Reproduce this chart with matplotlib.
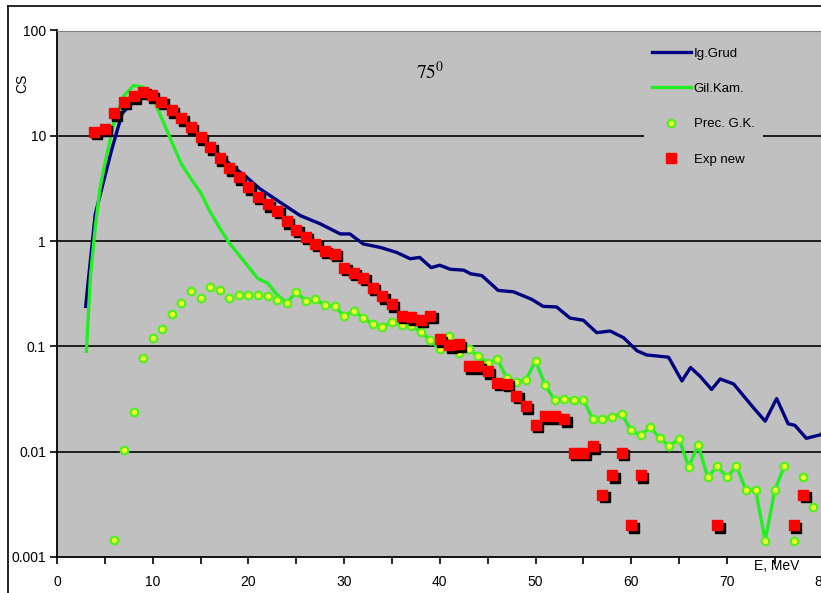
import matplotlib
matplotlib.use("Agg")
import matplotlib.pyplot as plt
from matplotlib.lines import Line2D
from matplotlib.ticker import FixedLocator, MultipleLocator, FuncFormatter, NullLocator
from matplotlib.transforms import offset_copy

# Ig.Grud (navy line)
grud_e = [3.0, 3.3, 4.0, 4.8, 5.7, 6.8, 7.8, 8.85, 10.2, 11.6, 13.0, 14.4, 15.8, 17.2,
          18.6, 19.6, 21.2, 23.3, 25.4, 27.5, 29.6, 30.6, 32.0, 33.8, 35.5, 36.9, 37.9,
          39.1, 40.0, 41.1, 42.5, 43.2, 44.4, 46.1, 47.7, 49.6, 50.8, 52.2, 53.6, 55.0,
          56.4, 57.8, 59.2, 60.6, 61.6, 63.9, 65.3, 66.2, 67.2, 68.4, 69.3, 70.7, 72.8,
          74.0, 75.2, 76.4, 77.1, 78.3, 79.7, 80.0]
grud_cs = [0.24, 0.45, 1.8, 3.5, 7.3, 16.3, 20.3, 25.2, 24.3, 18.8, 15.1, 11.3, 8.4, 6.3,
           4.9, 4.2, 3.14, 2.34, 1.75, 1.46, 1.17, 1.17, 0.94, 0.87, 0.78, 0.68, 0.70,
           0.56, 0.59, 0.54, 0.53, 0.49, 0.47, 0.34, 0.33, 0.28, 0.24, 0.237, 0.186, 0.177,
           0.135, 0.14, 0.121, 0.091, 0.083, 0.079, 0.047, 0.063, 0.052, 0.039, 0.049, 0.044, 0.026,
           0.0195, 0.032, 0.0184, 0.0178, 0.0134, 0.0144, 0.015]

# Prec. G.K. (points)
prec_e = list(range(6, 80))
prec_cs = [0.00145, 0.0103, 0.024, 0.077, 0.12, 0.147, 0.204, 0.26, 0.338, 0.29,
           0.37, 0.34, 0.29, 0.31, 0.31, 0.305, 0.30, 0.275, 0.258, 0.328,
           0.27, 0.28, 0.247, 0.24, 0.195, 0.218, 0.186, 0.163, 0.154, 0.171,
           0.16, 0.157, 0.138, 0.115, 0.094, 0.126, 0.087, 0.094, 0.081, 0.069,
           0.076, 0.05, 0.046, 0.048, 0.073, 0.043, 0.031, 0.032, 0.031, 0.031,
           0.0203, 0.0203, 0.0213, 0.0229, 0.0159, 0.0143, 0.0171, 0.0134, 0.0113, 0.0133,
           0.0072, 0.0115, 0.0057, 0.0073, 0.0057, 0.0073, 0.0043, 0.0043, 0.00143, 0.0043,
           0.0073, 0.00143, 0.0057, 0.003]

# Gil.Kam. (green line): own values up to 23 MeV, then it runs through the Prec. G.K. points
gil_head_e = [3.07, 3.5, 4.0, 4.5, 5.0, 6.0, 7.0, 8.0, 9.0, 10.0, 11.0, 12.0, 13.0, 14.0,
              15.0, 16.0, 17.0, 18.0, 19.0, 20.0, 21.0, 22.0, 23.0]
gil_head_cs = [0.09, 0.47, 1.36, 3.2, 5.4, 14.0, 24.0, 30.0, 29.0, 23.0, 14.3, 8.7, 5.4, 3.9,
               2.9, 1.9, 1.33, 0.96, 0.74, 0.57, 0.44, 0.40, 0.31]
gil_e = gil_head_e + prec_e[18:71]
gil_cs = gil_head_cs + prec_cs[18:71]

# Exp new (red squares)
exp_e = [3.9, 5.0, 6.0, 7.0, 8.0, 9.0, 9.9, 10.9, 12, 13, 14, 15, 16, 17, 18, 19, 20, 21, 22,
         23, 24, 25, 26, 27, 28, 29, 30, 31, 32, 33, 34, 35, 36, 37, 38, 39, 40, 41, 42,
         43, 44, 45, 46, 47, 48, 49, 50, 51, 52, 53, 54, 55, 56, 57, 58, 59, 60, 61, 69, 77, 78]
exp_cs = [10.9, 11.7, 16.3, 21, 23.8, 26.1, 24.3, 21, 17.5, 14.6, 12.1, 9.7, 7.8, 6.1, 4.9,
          4.05, 3.25, 2.65, 2.23, 1.95, 1.55, 1.28, 1.1, 0.94, 0.81, 0.755, 0.56, 0.50, 0.45,
          0.36, 0.30, 0.25, 0.195, 0.19, 0.18, 0.195, 0.117, 0.103, 0.105, 0.065, 0.065, 0.058,
          0.045, 0.044, 0.034, 0.027, 0.018, 0.0218, 0.0218, 0.0203, 0.0098, 0.0098, 0.0113,
          0.0039, 0.006, 0.0098, 0.002, 0.006, 0.002, 0.002, 0.0039]

y_ticks = [0.001, 0.01, 0.1, 1, 10, 100]
y_labels = ["0.001", "0.01", "0.1", "1", "10", "100"]

plt.rcParams['font.family'] = ['Liberation Sans Narrow', 'Liberation Sans', 'DejaVu Sans']
plt.rcParams['mathtext.fontset'] = 'stix'

fig = plt.figure(figsize=(8.21, 5.93), dpi=100)
ax = fig.add_axes([57 / 821, 1 - 557 / 593, 765.6 / 821, 526.5 / 593])
ax.set_facecolor('#c0c0c0')

ax.set_yscale('log')
ax.set_xlim(0, 80)
ax.set_ylim(0.001, 100)

for v in y_ticks[1:-1]:
    ax.axhline(v, color='#111111', lw=1.3, zorder=1)

ax.plot(grud_e, grud_cs, color='#000080', lw=2.4, zorder=3, label='Ig.Grud')
ax.plot(gil_e, gil_cs, color='#22ee22', lw=2.4, zorder=4, label='Gil.Kam.')
ax.plot(prec_e, prec_cs, 'o', ms=5.5, mfc='#e8ff30', mec='#55ee22', mew=1.6,
        zorder=5, label='Prec. G.K.')
shadow = offset_copy(ax.transData, fig=fig, x=2.5, y=-2.5, units='dots')
ax.plot(exp_e, exp_cs, 's', ms=7, color='black', transform=shadow, zorder=6)
ax.plot(exp_e, exp_cs, 's', ms=7, color='#ff0000', zorder=7, label='Exp new')

# axes look
for side in ['left', 'bottom']:
    ax.spines[side].set_color('black')
    ax.spines[side].set_linewidth(1.3)
ax.spines['top'].set_color('#808080')
ax.spines['right'].set_visible(False)

ax.yaxis.set_major_locator(FixedLocator(y_ticks))
ax.yaxis.set_minor_locator(NullLocator())
ax.yaxis.set_major_formatter(FuncFormatter(lambda v, p: y_labels[y_ticks.index(v)] if v in y_ticks else ""))
ax.xaxis.set_major_locator(MultipleLocator(10))
ax.xaxis.set_minor_locator(MultipleLocator(5))
ax.tick_params(axis='both', which='both', direction='out', length=5, width=1.2,
               labelsize=10, color='black')
ax.tick_params(axis='y', pad=3)
ax.tick_params(axis='x', pad=8)

leg = fig.legend(loc='upper left', bbox_to_anchor=(637 / 821, 1 - 33 / 593),
                 frameon=True, facecolor='#c0c0c0', edgecolor='none', framealpha=1,
                 fontsize=9.5, handlelength=3.0, handletextpad=0.2, labelspacing=1.75,
                 borderpad=0.6, numpoints=1)

fig.text(430 / 821, 1 - 72 / 593, r'$\mathrm{75^0}$', fontsize=14, ha='center', va='center')
fig.text(22 / 821, 1 - 83 / 593, 'CS', rotation=90, fontsize=10, ha='center', va='center')
fig.text(777 / 821, 1 - 566 / 593, 'E, MeV', fontsize=10, ha='center', va='center')

# outer chart border
fig.add_artist(Line2D([8 / 821, 8 / 821], [0, 1 - 6 / 593], transform=fig.transFigure,
                      color='black', lw=1.2))
fig.add_artist(Line2D([8 / 821, 1], [1 - 6 / 593, 1 - 6 / 593], transform=fig.transFigure,
                      color='black', lw=1.2))

fig.savefig('out.png', dpi=100)
